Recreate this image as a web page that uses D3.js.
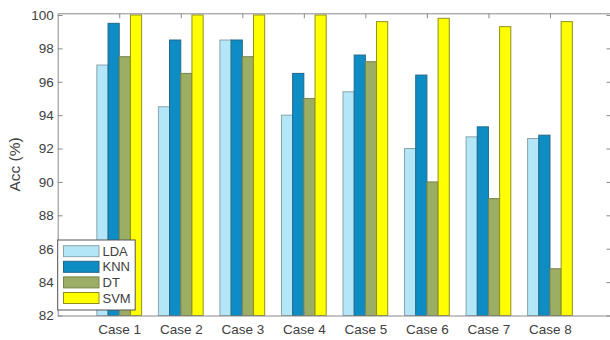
<!DOCTYPE html>
<html>
<head>
<meta charset="utf-8">
<script src="https://cdn.jsdelivr.net/npm/d3@7"></script>
<style>
  html, body { margin: 0; padding: 0; background: #fff; }
  svg { display: block; }
  text { font-family: "Liberation Sans", Arial, sans-serif; }
</style>
</head>
<body>
<svg id="chart" width="610" height="340"></svg>
<script>
const categories = ["Case 1", "Case 2", "Case 3", "Case 4", "Case 5", "Case 6", "Case 7", "Case 8"];
const seriesNames = ["LDA", "KNN", "DT", "SVM"];
const LDA = [97.0, 94.5, 98.5, 94.0, 95.4, 92.0, 92.7, 92.6];
const KNN = [99.5, 98.5, 98.5, 96.5, 97.6, 96.4, 93.3, 92.8];
const DT  = [97.5, 96.5, 97.5, 95.0, 97.2, 90.0, 89.0, 84.8];
const SVM = [100, 100, 100, 100, 99.6, 99.8, 99.3, 99.6];
const yTicks = [82, 84, 86, 88, 90, 92, 94, 96, 98, 100];

const series = [LDA, KNN, DT, SVM];
const fills = ["#b3e6f6", "#0e8dc4", "#9bae64", "#ffff00"];
const edges = ["#8aa3ab", "#20688a", "#76844f", "#8f8f1e"];

const svg = d3.select("#chart");
const L = 57.7, R = 611.5, T = 13.3, B = 315.5;

const x = d3.scaleLinear().domain([0, 9]).range([L, R]);
const y = d3.scaleLinear().domain([82, 100.1]).range([B, T]);

const groupW = 4 / (4 + 1.5);
const barW = groupW / 4;

// bars
const gBars = svg.append("g");
series.forEach((vals, k) => {
  gBars.selectAll(null)
    .data(vals)
    .enter().append("rect")
    .attr("x", (d, i) => x(i + 1 + (k - 2) * barW))
    .attr("width", x(barW) - x(0))
    .attr("y", d => y(d))
    .attr("height", d => B - y(d))
    .attr("fill", fills[k])
    .attr("stroke", edges[k])
    .attr("stroke-width", 1);
});

// axes box
const axisColor = "#8a8a8a";
const textColor = "#404040";

const yAxisL = d3.axisLeft(y).tickValues(yTicks).tickSizeInner(-5).tickSizeOuter(0).tickPadding(5);
const gyl = svg.append("g").attr("transform", `translate(${L},0)`).call(yAxisL);
gyl.select(".domain").attr("stroke", axisColor);
gyl.selectAll(".tick line").attr("stroke", axisColor);
gyl.selectAll(".tick text").attr("fill", textColor).style("font-size", "13.5px")
  .attr("x", -4);

const yAxisR = d3.axisRight(y).tickValues(yTicks).tickSizeInner(-5).tickSizeOuter(0).tickFormat("");
const gyr = svg.append("g").attr("transform", `translate(${R},0)`).call(yAxisR);
gyr.select(".domain").attr("stroke", axisColor);
gyr.selectAll(".tick line").attr("stroke", axisColor);

const xAxisB = d3.axisBottom(x).tickValues(d3.range(1, 9)).tickSizeInner(-5).tickSizeOuter(0)
  .tickFormat(d => categories[d - 1]);
const gxb = svg.append("g").attr("transform", `translate(0,${B})`).call(xAxisB);
gxb.select(".domain").attr("stroke", axisColor);
gxb.selectAll(".tick line").attr("stroke", axisColor);
gxb.selectAll(".tick text").attr("fill", textColor).style("font-size", "13.5px").attr("y", 9);

const xAxisT = d3.axisTop(x).tickValues(d3.range(1, 9)).tickSizeInner(-5).tickSizeOuter(0).tickFormat("");
const gxt = svg.append("g").attr("transform", `translate(0,${T})`).call(xAxisT);
gxt.select(".domain").attr("stroke", axisColor);
gxt.selectAll(".tick line").attr("stroke", axisColor);

// y label
svg.append("text")
  .attr("transform", `translate(20,${(T + B) / 2}) rotate(-90)`)
  .attr("text-anchor", "middle")
  .attr("fill", textColor)
  .style("font-size", "15.5px")
  .text("Acc (%)");

// legend
const lg = svg.append("g");
lg.append("rect")
  .attr("x", 57.7).attr("y", 240).attr("width", 77.5).attr("height", 70)
  .attr("fill", "#fff").attr("stroke", "#555").attr("stroke-width", 1);
seriesNames.forEach((name, k) => {
  const yy = 245.7 + k * 15.6;
  lg.append("rect")
    .attr("x", 63.5).attr("y", yy).attr("width", 35.5).attr("height", 11)
    .attr("fill", fills[k]).attr("stroke", edges[k]).attr("stroke-width", 1);
  lg.append("text")
    .attr("x", 102.5).attr("y", yy + 5.5).attr("dy", "0.36em")
    .attr("fill", textColor).style("font-size", "13px")
    .text(name);
});
</script>
</body>
</html>
